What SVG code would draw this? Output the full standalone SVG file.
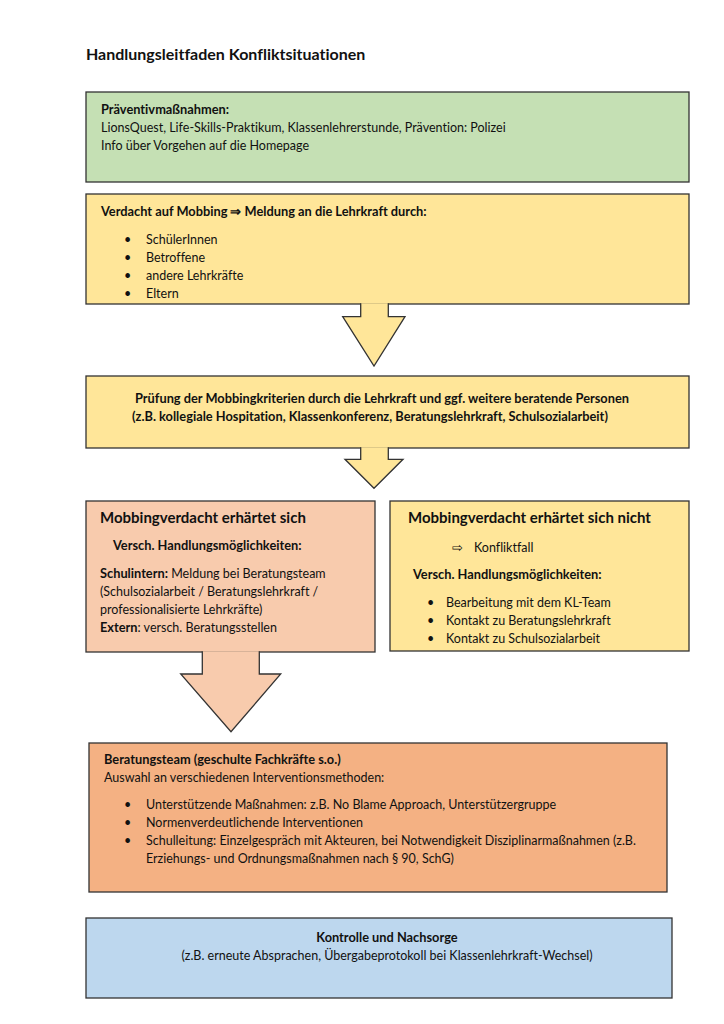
<svg xmlns="http://www.w3.org/2000/svg" width="724" height="1024" viewBox="0 0 724 1024">
<style>
text{font-family:Lato,"Open Sans","Liberation Sans",sans-serif;font-size:12.5px;fill:#111;font-variant-ligatures:none;font-feature-settings:"liga" 0}
.b{font-weight:bold;font-size:12.8px}
.h{font-size:15px;font-weight:bold}
.t{font-size:16px;font-weight:bold}
.c{text-anchor:middle}
.box{stroke:#333;stroke-width:1.3}
.green{fill:#c5e0b4}.yellow{fill:#ffe699}.peach{fill:#f8cbad}.orange{fill:#f4b183}.blue{fill:#bdd7ee}
</style>
<rect width="724" height="1024" fill="#fff"/>
<text x="86" y="60" class="t">Handlungsleitfaden Konfliktsituationen</text>

<g id="praevention">
<rect class="box green" x="86" y="92" width="603" height="90"/>
<text x="101" y="114" class="b">Präventivmaßnahmen:</text>
<text x="101" y="132">LionsQuest, Life-Skills-Praktikum, Klassenlehrerstunde, Prävention: Polizei</text>
<text x="101" y="150">Info über Vorgehen auf die Homepage</text>
</g>

<g id="verdacht">
<rect class="box yellow" x="86" y="194" width="603" height="110"/>
<text x="101" y="216" class="b">Verdacht auf Mobbing ⇒ Meldung an die Lehrkraft durch:</text>
<text x="124" y="244">•</text><text x="146" y="244">SchülerInnen</text>
<text x="124" y="262">•</text><text x="146" y="262">Betroffene</text>
<text x="124" y="280">•</text><text x="146" y="280">andere Lehrkräfte</text>
<text x="124" y="298">•</text><text x="146" y="298">Eltern</text>
</g>

<g id="pruefung">
<rect class="box yellow" x="86" y="376" width="603" height="72"/>
<text x="382" y="403" class="b c">Prüfung der Mobbingkriterien durch die Lehrkraft und ggf. weitere beratende Personen</text>
<text x="370" y="421" class="b c">(z.B. kollegiale Hospitation, Klassenkonferenz, Beratungslehrkraft, Schulsozialarbeit)</text>
</g>

<g id="erhaertet">
<rect class="box peach" x="86" y="501" width="289" height="151"/>
<text x="100" y="523" class="h">Mobbingverdacht erhärtet sich</text>
<text x="113" y="550" class="b">Versch. Handlungsmöglichkeiten:</text>
<text x="100" y="578"><tspan class="b">Schulintern:</tspan> Meldung bei Beratungsteam</text>
<text x="100" y="596">(Schulsozialarbeit / Beratungslehrkraft /</text>
<text x="100" y="614">professionalisierte Lehrkräfte)</text>
<text x="100" y="632"><tspan class="b">Extern</tspan>: versch. Beratungsstellen</text>
</g>

<g id="nicht-erhaertet">
<rect class="box yellow" x="390" y="501" width="299" height="150"/>
<text x="408" y="523" class="h">Mobbingverdacht erhärtet sich nicht</text>
<text x="452" y="552">⇨</text><text x="474" y="552">Konfliktfall</text>
<text x="413" y="579" class="b">Versch. Handlungsmöglichkeiten:</text>
<text x="427" y="607">•</text><text x="446" y="607">Bearbeitung mit dem KL-Team</text>
<text x="427" y="625">•</text><text x="446" y="625">Kontakt zu Beratungslehrkraft</text>
<text x="427" y="643">•</text><text x="446" y="643">Kontakt zu Schulsozialarbeit</text>
</g>

<g id="beratungsteam">
<rect class="box orange" x="89" y="743" width="578" height="149"/>
<text x="104" y="764" class="b">Beratungsteam (geschulte Fachkräfte s.o.)</text>
<text x="104" y="782">Auswahl an verschiedenen Interventionsmethoden:</text>
<text x="124" y="809">•</text><text x="146" y="809">Unterstützende Maßnahmen: z.B. No Blame Approach, Unterstützergruppe</text>
<text x="124" y="827">•</text><text x="146" y="827">Normenverdeutlichende Interventionen</text>
<text x="124" y="845">•</text><text x="146" y="845">Schulleitung: Einzelgespräch mit Akteuren, bei Notwendigkeit Disziplinarmaßnahmen (z.B.</text>
<text x="146" y="863">Erziehungs- und Ordnungsmaßnahmen nach § 90, SchG)</text>
</g>

<g id="kontrolle">
<rect class="box blue" x="86" y="918" width="586" height="80"/>
<text x="387" y="942" class="b c">Kontrolle und Nachsorge</text>
<text x="387" y="960" class="c">(z.B. erneute Absprachen, Übergabeprotokoll bei Klassenlehrkraft-Wechsel)</text>
</g>

<g id="connectors">
<path class="box yellow" d="M360.7,303.35 V316.7 H342.7 L374,366 L405,316.7 H388.3 V303.35"/>
<path class="box yellow" d="M360.7,447.35 V459.3 H345 L374,488.3 L403,459.3 H388.3 V447.35"/>
<path class="box peach" d="M202.3,651.35 V674 H180.7 L231,731.7 L280.7,674 H259.3 V651.35"/>
</g>
</svg>
